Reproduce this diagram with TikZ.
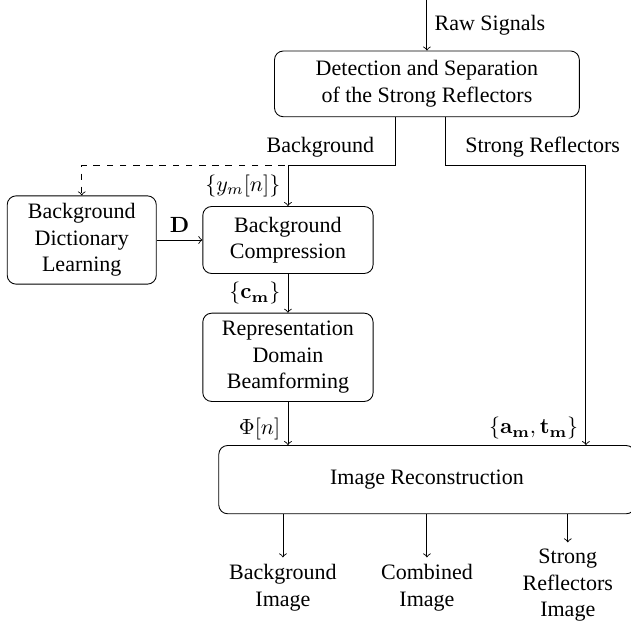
\documentclass[tikz,border=0pt]{standalone}
\usepackage{amsmath,amssymb}
\usepackage[no-math]{fontspec}
\setmainfont{Liberation Serif}
\usetikzlibrary{positioning}

\begin{document}
\begin{tikzpicture}[
  block/.style={
    rectangle, draw=black, line width=0.4pt,
    rounded corners=4pt, inner sep=3pt, align=center
  },
  sideblock/.style={
    block, minimum width=27.2mm
  },
  outlbl/.style={
    align=center, inner sep=3pt
  },
  arr/.style={->, line width=0.4pt, draw=black},
  dasharr/.style={->, line width=0.4pt, draw=black, dashed},
  edgelbl/.style={inner sep=3.3pt}
]

\useasboundingbox (-68.2mm,13.4mm) rectangle (32.6mm,-86.6mm);

\node[block, minimum width=48.7mm, minimum height=10.5mm] (det) at (0,0) {%
  Detection and Separation\\
  of the Strong Reflectors%
};
\coordinate[above=8.1mm of det] (rawin);

\node[sideblock, minimum height=10.7mm, below=14.2mm of det, xshift=-22.2mm] (comp) {%
  Background\\
  Compression%
};
\node[block, minimum width=23.8mm, minimum height=14.1mm, left=7.3mm of comp] (dict) {%
  Background\\
  Dictionary\\
  Learning%
};
\node[sideblock, minimum height=14.1mm, below=6.2mm of comp] (repr) {%
  Representation\\
  Domain\\
  Beamforming%
};
\node[block, minimum width=66.5mm, minimum height=10.9mm, below=6.9mm of repr, xshift=22.2mm] (recon) {%
  Image Reconstruction%
};
\coordinate (srin) at ([xshift=25.4mm]recon.north);

\node[outlbl, anchor=north] (bgimg) at ([xshift=-23.0mm,yshift=-6.9mm]recon.south) {%
  Background\\
  Image%
};
\node[outlbl, anchor=north] (combimg) at ([yshift=-6.9mm]recon.south) {%
  Combined\\
  Image%
};
\node[outlbl, anchor=north] (srimg) at ([xshift=22.5mm,yshift=-4.5mm]recon.south) {%
  Strong\\
  Reflectors\\
  Image%
};

\draw[arr] (rawin) -- node[edgelbl, right] (rawlbl) {Raw Signals} (det);

\draw[dasharr] ([xshift=-5.1mm]det.south) -- ++(0,-7.7mm) -| (dict.north);
\draw[arr] ([xshift=-5.1mm]det.south) -- ++(0,-7.7mm)
  node[edgelbl, above left, xshift=-2.1mm] (bglbl) {Background}
  -| node[edgelbl, pos=0.75, left] (ylbl) {$\{y_m[n]\}$} (comp.north);

\draw[arr] ([xshift=3mm]det.south) -- ++(0,-7.7mm)
  node[edgelbl, above right, xshift=1.9mm] (srlbl) {Strong Reflectors}
  -| node[edgelbl, pos=0.97, left] (atlbl) {$\{\mathbf{a_m},\mathbf{t_m}\}$} (srin);

\draw[arr] (dict) -- node[edgelbl, above] (dlbl) {$\mathbf{D}$} (comp);
\draw[arr] (comp) -- node[edgelbl, left] (clbl) {$\{\mathbf{c_m}\}$} (repr);
\draw[arr] (repr.south) -- node[edgelbl, pos=0.63, left] (philbl) {$\Phi[n]$} (recon.north -| repr.south);

\draw[arr] (recon.south -| bgimg) -- (bgimg);
\draw[arr] (recon.south -| combimg) -- (combimg);
\draw[arr] (recon.south -| srimg) -- (srimg);

\end{tikzpicture}
\end{document}
